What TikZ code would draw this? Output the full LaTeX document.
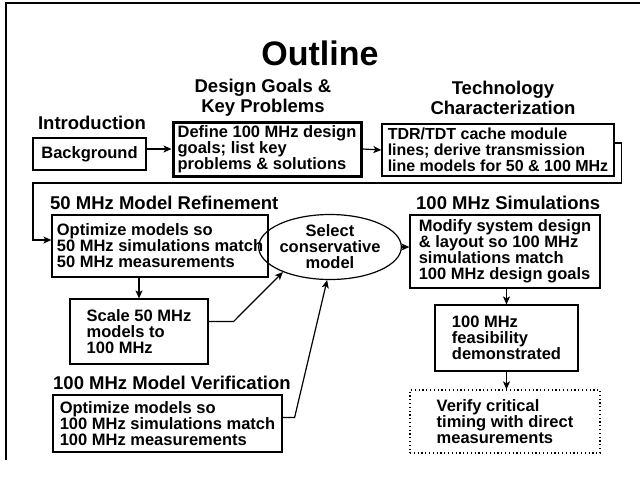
\documentclass[tikz,border=0pt]{standalone}
\usepackage{fontspec}
\setmainfont{Liberation Sans}
\usetikzlibrary{arrows.meta, shapes.geometric}

\newcommand{\bodyfont}{\bfseries\fontsize{16.5}{16}\selectfont}
\newcommand{\headfont}{\bfseries\fontsize{18.5}{20}\selectfont}

\tikzset{
    blk/.style={draw, line width=1.2pt, align=left, font=\bodyfont, inner sep=0pt},
    hd/.style={font=\headfont, align=center, inner sep=0pt},
    flow/.style={line width=1.2pt, -{Stealth[length=8pt, width=7pt, inset=2pt]}}
}

\begin{document}
\begin{tikzpicture}[x=1pt, y=-1pt]
    \useasboundingbox (0,0) rectangle (640,477);
    \draw[line width=1.3pt] (6,460) -- (6,3) -- (640,3);

    \node[font=\bfseries\fontsize{34}{34}\selectfont, inner sep=0pt] (title) at (320,53) {Outline};
    \node[hd] (introhd) at (92,123) {Introduction};
    \node[hd] (goalshd) at (263,98) {Design Goals \&\\Key Problems};
    \node[hd] (techhd) at (503,98) {Technology\\Characterization};
    \node[hd, anchor=west] (refhd) at (50,203) {50 MHz Model Refinement};
    \node[hd, anchor=west] (simhd) at (416,203) {100 MHz Simulations};
    \node[hd, anchor=west] (verhd) at (53,383) {100 MHz Model Verification};

    \node[blk, align=center, minimum width=113, minimum height=32] (bg) at (89.5,154) {Background};
    \node[blk, line width=3pt, minimum width=188, minimum height=54] (goals) at (267,149)
        {Define 100 MHz design\\goals; list key\\problems \& solutions};
    \node[blk, font=\bfseries\fontsize{16}{16}\selectfont, minimum width=232, minimum height=52] (tdr) at (498,150)
        {TDR/TDT cache module\\lines; derive transmission\\line models for 50 \& 100 MHz};
    \node[blk, minimum width=216, minimum height=62] (ref50) at (160,246)
        {Optimize models so\\50 MHz simulations match\\50 MHz measurements};
    \node[draw, ellipse, line width=1.2pt, font=\bodyfont, align=center, inner sep=0pt,
        minimum width=116, minimum height=65] (sel) at (330,247) {Select\\conservative\\model};
    \node[blk, minimum width=190, minimum height=73] (sim100) at (505,251.5)
        {Modify system design\\\& layout so 100 MHz\\simulations match\\100 MHz design goals};
    \node[blk, minimum width=143, minimum height=66] (feas) at (506.5,338)
        {100 MHz\\feasibility\\demonstrated};
    \node[blk, dash pattern=on 1.2pt off 2.6pt, minimum width=190, minimum height=63] (verify) at (505,421.5)
        {Verify critical\\timing with direct\\measurements};
    \node[blk, minimum width=138, minimum height=65] (scale) at (139,331.5)
        {Scale 50 MHz\\models to\\100 MHz};
    \node[blk, minimum width=229, minimum height=57] (ver100) at (167.5,423.5)
        {Optimize models so\\100 MHz simulations match\\100 MHz measurements};

    \coordinate (back) at (33,183);

    \draw[flow] (bg.east |- goals.west) -- (goals.west);
    \draw[flow] (goals.east) -- (tdr.west);
    \draw[flow] ([yshift=7pt]tdr.east) -- ++(7,0) |- (back) |- ([yshift=6pt]ref50.west);
    \draw[flow] (scale.north |- ref50.south) -- (scale.north);
    \draw[flow] ([yshift=10pt]scale.east) -- ++(25,0) -- (sel.208);
    \draw[flow] ([yshift=6pt]ver100.east) -- ++(12,0) -- (sel.265);
    \draw[flow] (sel.east) -- (sel.east -| sim100.west);
    \draw[flow] (feas.north |- sim100.south) -- (feas.north);
    \draw[flow] (feas.south) -- (feas.south |- verify.north);
\end{tikzpicture}
\end{document}
